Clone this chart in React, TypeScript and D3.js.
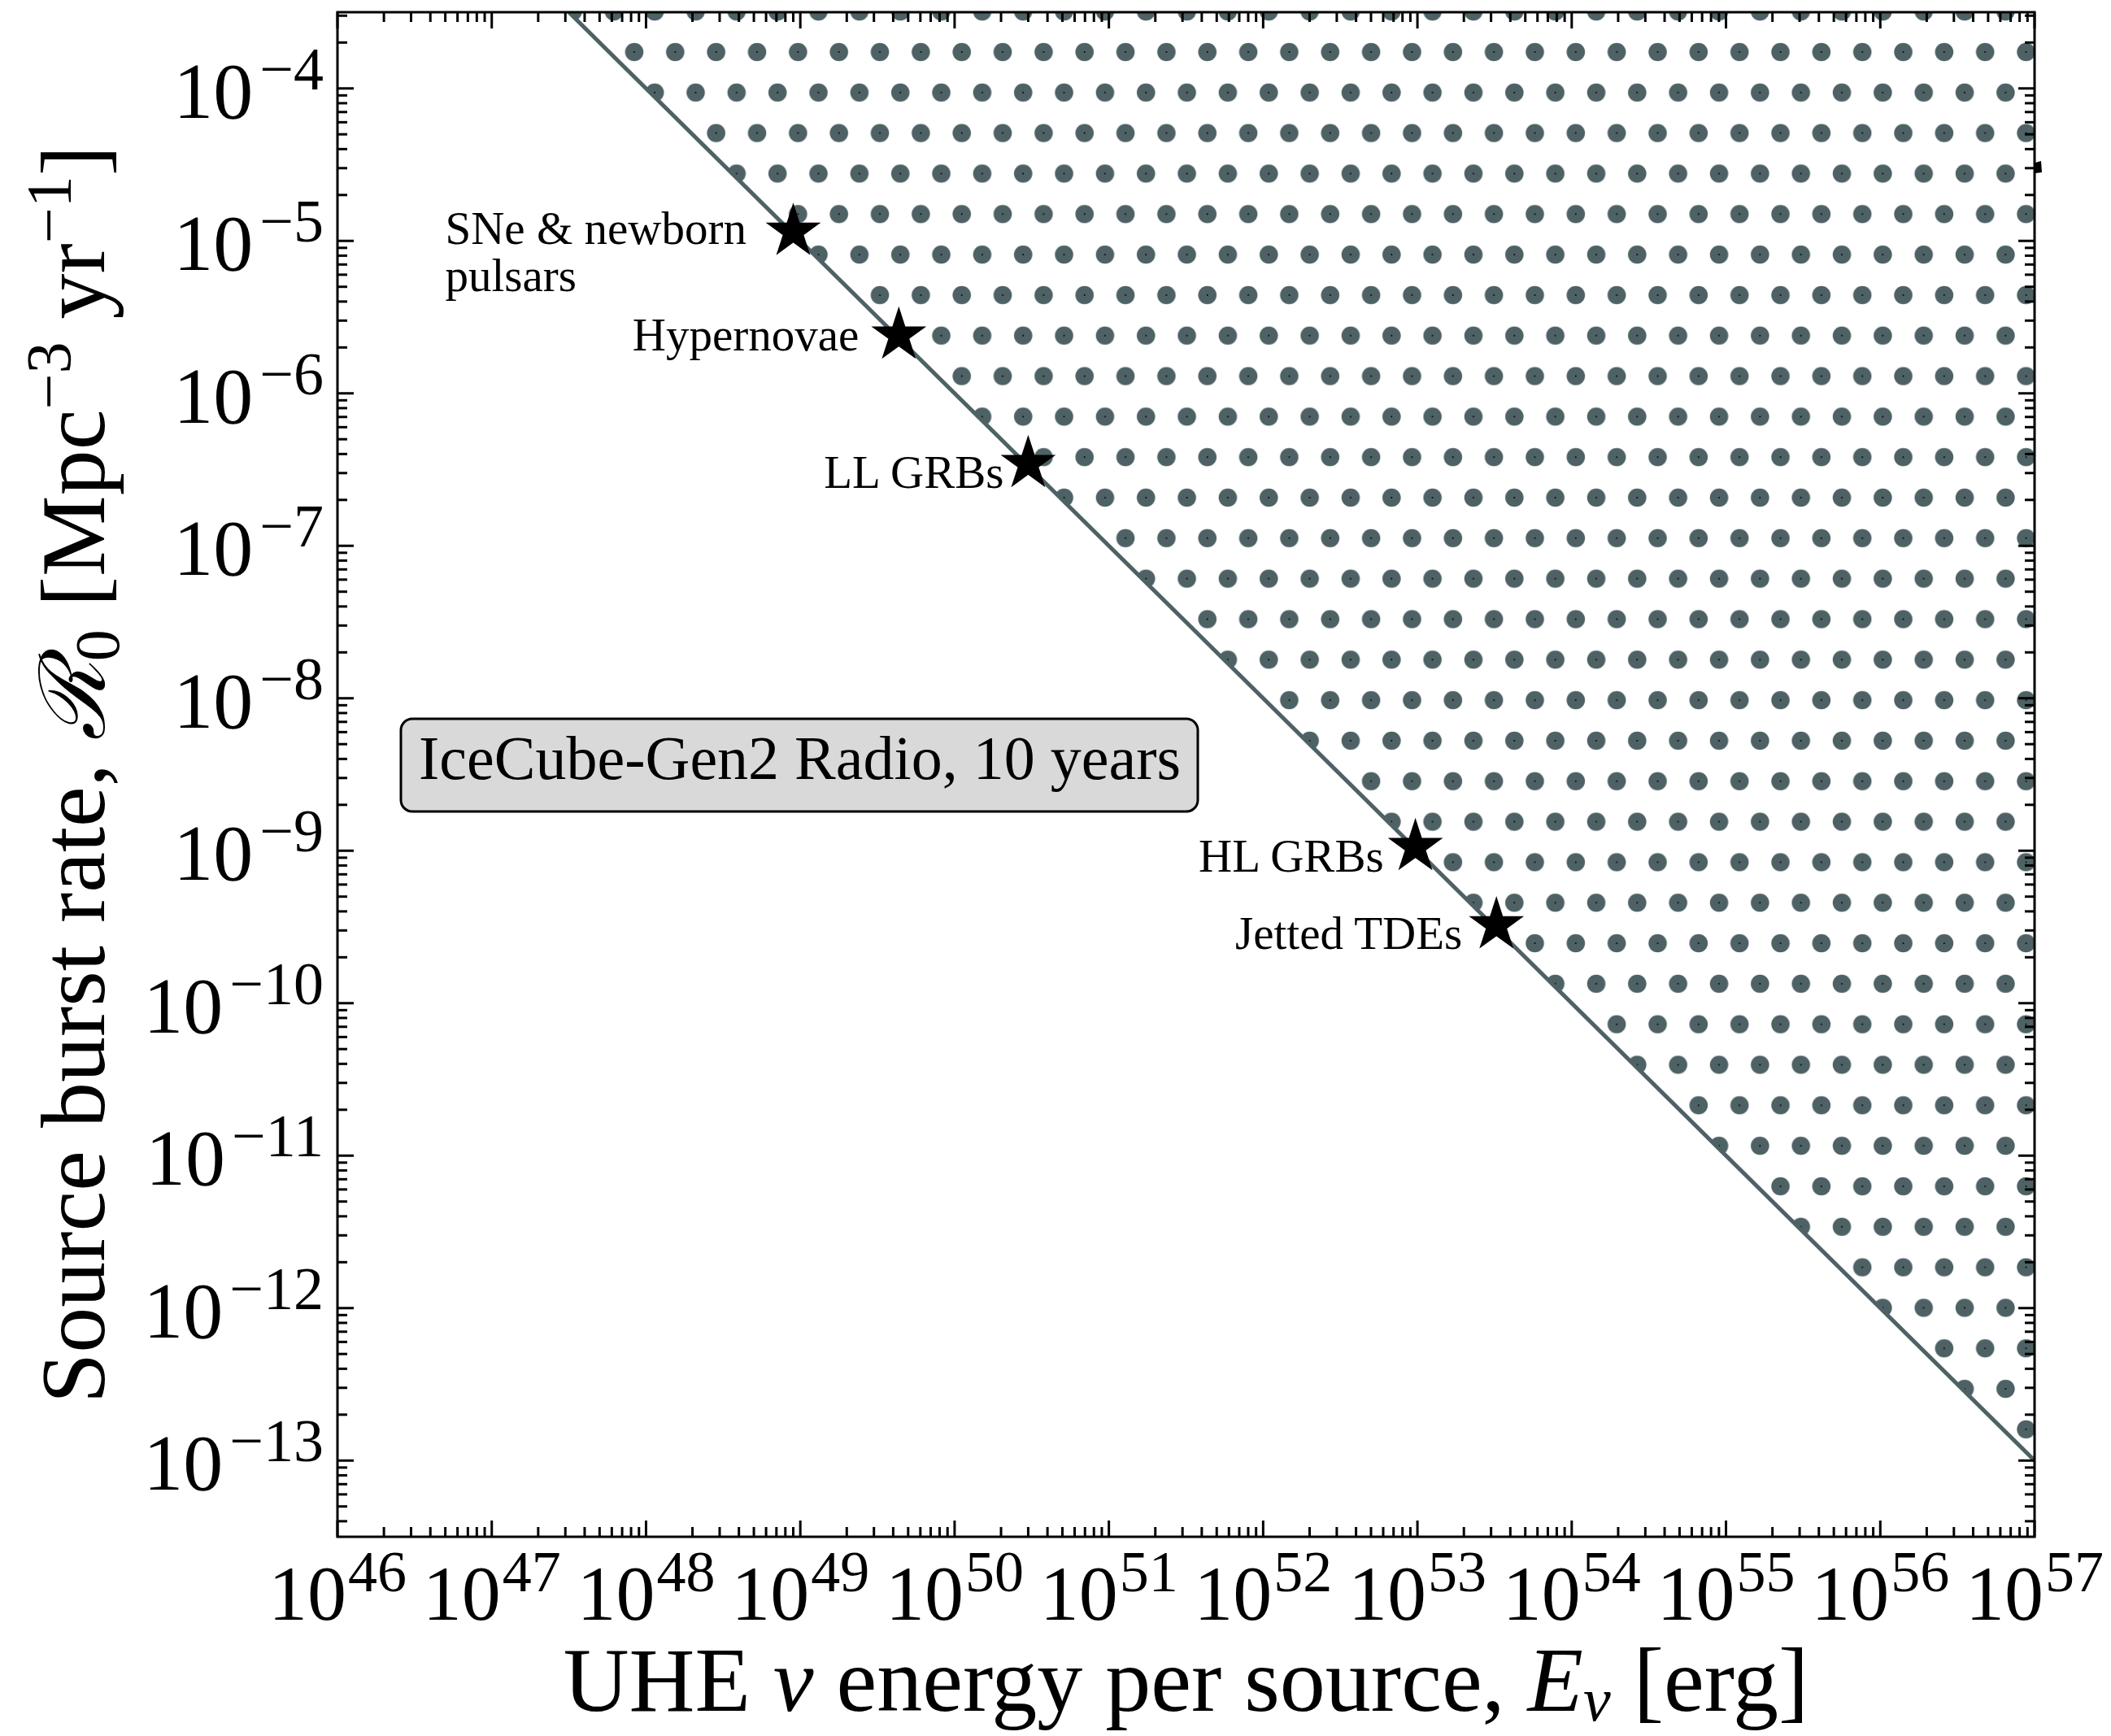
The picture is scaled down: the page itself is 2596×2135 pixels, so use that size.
import React from 'react';
import * as d3 from 'd3';

// ---------- data ----------
const xTickExps = [46, 47, 48, 49, 50, 51, 52, 53, 54, 55, 56, 57];
const yTickExps = [-4, -5, -6, -7, -8, -9, -10, -11, -12, -13];
const xDomain = [1e46, 1e57];
const yDomain = [Math.pow(10, -13.5), Math.pow(10, -3.5)];

// sensitivity limit line (R0 * E = const)
const limitE = [1e46, 1e57];
const limitR = [1e-2, 1e-13];

// source classes
const sourceNames = ['SNe & newborn|pulsars', 'Hypernovae', 'LL GRBs', 'HL GRBs', 'Jetted TDEs'];
const sourceE = [9.0e48, 4.35e49, 3.0e50, 9.7e52, 3.25e53];
const sourceR = [1.15e-5, 2.4e-6, 3.45e-7, 1.06e-9, 3.25e-10];

const boxText = 'IceCube-Gen2 Radio, 10 years';

// ---------- layout / style ----------
const W = 2596;
const H = 2135;
const L = 415, R = 2502, T = 15, B = 1890;
const FONT = '"Liberation Serif", "DejaVu Serif", serif';
const DOT = '#4e6265';
// label placement relative to star (px): [dx, dy, anchor]
const labelPos: [number, number, string][] = [
  [-428, 15, 'start'],
  [-49, 19, 'end'],
  [-30, 30, 'end'],
  [-39, 30, 'end'],
  [-42, 29, 'end'],
];

export default function App() {
  const x = d3.scaleLog().domain(xDomain).range([L, R]);
  const y = d3.scaleLog().domain(yDomain).range([B, T]);

  const xMinor: number[] = [];
  for (let e = 46; e < 57; e++) for (let k = 2; k <= 9; k++) xMinor.push(k * Math.pow(10, e));
  const yMinor: number[] = [];
  for (let e = -14; e <= -4; e++)
    for (let k = 2; k <= 9; k++) {
      const v = k * Math.pow(10, e);
      if (v > yDomain[0] && v < yDomain[1]) yMinor.push(v);
    }

  const pts = limitE.map((e, i) => [x(e), y(limitR[i])] as [number, number]);
  const line = d3.line()(pts) as string;
  const area = (d3.line()([pts[0], [R + 50, T - 50], pts[1]]) as string) + 'Z';
  const star = d3.symbol().type(d3.symbolStar).size(1180)() as string;

  const majLen = 20, minLen = 12, tw = 3;

  return (
    <svg width={W} height={H} style={{ position: 'absolute', left: 0, top: 0, background: '#fff' }} fontFamily={FONT}>
      <defs>
        <clipPath id="plotClip">
          <rect x={L} y={T} width={R - L} height={B - T} />
        </clipPath>
        <clipPath id="areaClip">
          <path d={area} />
        </clipPath>
        <pattern id="dots" patternUnits="userSpaceOnUse" x={780 - 12.585} y={64 - 24.91} width={50.34} height={99.64}>
          <circle cx={12.585} cy={24.91} r={11.3} fill={DOT} />
          <circle cx={37.755} cy={74.73} r={11.3} fill={DOT} />
          <circle cx={12.585} cy={24.91} r={1} fill="#000" />
          <circle cx={37.755} cy={74.73} r={1} fill="#000" />
        </pattern>
      </defs>
      <rect x={0} y={0} width={W} height={H} fill="#fff" />

      <g clipPath="url(#plotClip)">
        <rect x={L} y={T} width={R - L} height={B - T} fill="url(#dots)" clipPath="url(#areaClip)" />
        <path d={line} fill="none" stroke={DOT} strokeWidth={5} />
      </g>

      {/* legend box */}
      <rect x={493} y={884} width={980} height={114} rx={14} ry={14} fill="#d9d9d9" stroke="#000" strokeWidth={3} />
      <text x={515} y={958} fontSize={76} fill="#000">{boxText}</text>

      {/* stars and labels */}
      {sourceNames.map((name, i) => {
        const sx = x(sourceE[i]);
        const sy = y(sourceR[i]);
        const [dx, dy, anchor] = labelPos[i];
        const lines = name.split('|');
        return (
          <g key={name}>
            <path d={star} transform={`translate(${sx},${sy})`} fill="#000" stroke="#000" strokeWidth={2} />
            <text x={sx + dx} y={sy + dy} fontSize={57} textAnchor={anchor} fill="#000">
              {lines.map((ln, j) => (
                <tspan key={j} x={sx + dx} dy={j === 0 ? 0 : 58}>{ln}</tspan>
              ))}
            </text>
          </g>
        );
      })}

      {/* ticks */}
      <g stroke="#000" strokeWidth={tw}>
        {xTickExps.map((e) => {
          const px = x(Math.pow(10, e));
          return (
            <g key={'xt' + e}>
              <line x1={px} x2={px} y1={B} y2={B - majLen} />
              <line x1={px} x2={px} y1={T} y2={T + majLen} />
            </g>
          );
        })}
        {xMinor.map((v, i) => {
          const px = x(v);
          return (
            <g key={'xm' + i}>
              <line x1={px} x2={px} y1={B} y2={B - minLen} />
              <line x1={px} x2={px} y1={T} y2={T + minLen} />
            </g>
          );
        })}
        {yTickExps.map((e) => {
          const py = y(Math.pow(10, e));
          return (
            <g key={'yt' + e}>
              <line x1={L} x2={L + majLen} y1={py} y2={py} />
              <line x1={R} x2={R - majLen} y1={py} y2={py} />
            </g>
          );
        })}
        {yMinor.map((v, i) => {
          const py = y(v);
          return (
            <g key={'ym' + i}>
              <line x1={L} x2={L + minLen} y1={py} y2={py} />
              <line x1={R} x2={R - minLen} y1={py} y2={py} />
            </g>
          );
        })}
      </g>

      {/* frame */}
      <rect x={L} y={T} width={R - L} height={B - T} fill="none" stroke="#000" strokeWidth={3} />
      <path d="M2503,200 L2510,198 L2511,212 L2503,213 Z" fill="#000" />

      {/* tick labels */}
      {xTickExps.map((e) => (
        <text key={'xl' + e} x={x(Math.pow(10, e))} y={1992} fontSize={96} textAnchor="middle" fill="#000">
          10<tspan fontSize={72} dy={-35} dx={2}>{e}</tspan>
        </text>
      ))}
      {yTickExps.map((e) => (
        <text key={'yl' + e} x={398} y={y(Math.pow(10, e)) + 36} fontSize={98} textAnchor="end" fill="#000">
          10<tspan fontSize={74} dy={-35} dx={8}>{'\u2212' + Math.abs(e)}</tspan>
        </text>
      ))}

      {/* axis labels */}
      <text x={(L + R) / 2} y={2104} fontSize={112} textAnchor="middle" fill="#000">
        UHE <tspan fontStyle="italic">ν</tspan> energy per source, <tspan fontStyle="italic">E</tspan>
        <tspan fontStyle="italic" fontSize={76} dy={12}>ν</tspan>
        <tspan dy={-12}> [erg]</tspan>
      </text>
      <text transform={`translate(128,${(T + B) / 2}) rotate(-90)`} fontSize={112} textAnchor="middle" fill="#000">
        Source burst rate, <tspan fontFamily='"DejaVu Serif", serif' fontStyle="italic">ℛ</tspan>
        <tspan fontSize={78} dy={18}>0</tspan>
        <tspan dy={-18}> [Mpc</tspan>
        <tspan fontSize={78} dy={-42}>−3</tspan>
        <tspan dy={42}> yr</tspan>
        <tspan fontSize={78} dy={-42}>−1</tspan>
        <tspan dy={42}>]</tspan>
      </text>
    </svg>
  );
}
